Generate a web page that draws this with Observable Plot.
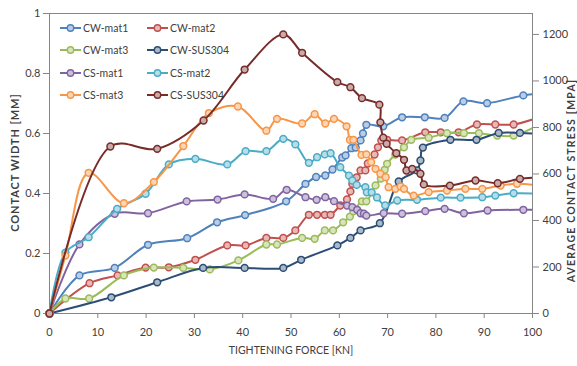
<!DOCTYPE html>
<html><head><meta charset="utf-8">
<script src="https://cdn.jsdelivr.net/npm/d3@7"></script>
<script src="https://cdn.jsdelivr.net/npm/@observablehq/plot@0.6"></script>
<style>
body{margin:0;background:#fff;}
#wrap{position:relative;width:577px;height:366px;overflow:hidden;}
#legend{position:absolute;left:60px;top:17px;display:grid;grid-template-columns:87px 87px;grid-auto-rows:22.3px;font:10.5px Lato, sans-serif;color:#404040;}
.item{display:flex;align-items:center;white-space:nowrap;}
.item svg{margin-right:2px;}
</style></head><body><div id="wrap"><div id="legend"></div></div>
<script>
// ---- axis ticks ----
const xTicks = [0,10,20,30,40,50,60,70,80,90,100];
const leftTicks = [0,0.2,0.4,0.6,0.8,1];
const rightTicks = [0,200,400,600,800,1000,1200];
const RIGHT_MAX = 1290; // MPa at top of the secondary axis

const seriesNames = ["CW-mat1","CW-mat2","CW-mat3","CW-SUS304","CS-mat1","CS-mat2","CS-mat3","CS-SUS304"];
const seriesColors = ["#4F81BD","#C0504D","#9BBB59","#2C4D75","#8064A2","#4BACC6","#F79646","#772C2A"];

// ---- contact width [mm] vs tightening force [kN] ----
const cwMat1 = [[0,0],[6.2,0.127],[13.5,0.152],[20.4,0.229],[28.5,0.251],[34.7,0.304],[40.5,0.328],[49,0.374],[53,0.432],[55.2,0.455],[57.1,0.46],[58.6,0.48],[60.6,0.52],[61.3,0.527],[62.5,0.551],[63.4,0.553],[64.4,0.577],[64.9,0.6],[65.6,0.629],[69.1,0.624],[73,0.654],[77.7,0.654],[81.8,0.652],[85.7,0.707],[90.6,0.701],[98.1,0.727],[101.5,0.733]];
const cwMat2 = [[0,0],[8.3,0.101],[14.1,0.127],[19.9,0.153],[24.7,0.154],[30.2,0.179],[36.8,0.227],[40.6,0.227],[44.9,0.252],[48.4,0.252],[50.9,0.277],[53.7,0.329],[55.4,0.329],[57,0.329],[58.2,0.329],[60.2,0.36],[61.6,0.38],[62.3,0.407],[62.7,0.432],[63.6,0.454],[64.4,0.477],[65.4,0.477],[65.9,0.5],[67.3,0.53],[68,0.554],[68.7,0.577],[69.9,0.579],[73,0.577],[77.8,0.604],[81,0.604],[84.7,0.604],[88.5,0.63],[92.3,0.63],[96.1,0.63],[101.5,0.655]];
const cwMat3 = [[0,0],[3.3,0.05],[8.2,0.05],[15.4,0.127],[21.6,0.153],[27.7,0.152],[33.2,0.147],[39.1,0.177],[44.9,0.23],[47.1,0.23],[52.3,0.252],[54.9,0.249],[57,0.277],[58.7,0.277],[60.8,0.304],[62.2,0.323],[62.9,0.341],[64.7,0.374],[65.6,0.374],[67.5,0.427],[68.6,0.45],[69.4,0.479],[69.9,0.499],[71.6,0.53],[73.4,0.554],[74.9,0.579],[78.5,0.586],[82.3,0.601],[85.8,0.601],[88.9,0.601],[92.7,0.593],[96.1,0.593],[101.5,0.63]];
const cwSus304 = [[0,0],[12.8,0.054],[22.3,0.104],[31.8,0.152],[40.4,0.152],[48.4,0.152],[52.1,0.179],[59.6,0.227],[62.3,0.252],[64.4,0.277],[68.4,0.301],[72.3,0.44],[76.1,0.477],[76.8,0.51],[77.3,0.553],[83,0.579],[88.4,0.579],[93,0.602],[97.4,0.602],[101.5,0.598]];

// ---- average contact stress [MPa] vs tightening force [kN] ----
const csMat1 = [[0,0],[6.2,297],[13.5,429],[20.4,431],[28.4,482],[34.8,490],[40.4,512],[46.3,493],[49.1,532],[53,500],[55.3,489],[57.1,500],[58.9,483],[61.6,464],[62.7,457],[63.7,446],[64.4,431],[65.1,429],[65.6,421],[69.2,431],[73,429],[77.8,440],[81.8,450],[85.8,431],[90.7,443],[98.1,446],[101.5,446]];
const csMat2 = [[0,0],[3.3,262],[8.1,328],[14,450],[19.9,515],[24.7,641],[30.2,665],[36.8,641],[40.6,698],[44.9,698],[48.4,751],[50.9,727],[53.7,648],[55.4,672],[57,684],[58.2,689],[60.2,629],[62,593],[62.7,572],[63.6,553],[65.4,543],[65.7,521],[66.7,521],[67.8,499],[69.5,465],[72,486],[76.1,489],[81,498],[85.1,498],[89.6,500],[92.3,507],[96.1,517],[101.5,515]];
const csMat3 = [[0,0],[3.3,249],[8.1,605],[15.4,474],[21.6,565],[27.7,720],[33,862],[39,890],[44.9,786],[47.1,837],[52.3,817],[54.9,857],[57.1,817],[58.9,837],[61.5,805],[62.2,747],[62.9,747],[64.6,682],[65.6,684],[66.6,651],[67.5,622],[68.5,601],[69.6,586],[70.2,543],[71.6,536],[72.7,546],[73.4,536],[75.4,507],[78.5,522],[82.3,529],[86.1,536],[89.6,536],[93.4,550],[96.8,558],[101.5,550]];
const csSus304 = [[0,0],[12.6,718],[22.3,708],[31.9,830],[40.4,1049],[48.4,1200],[52.3,1121],[59.6,995],[62.3,973],[64.7,926],[68.3,898],[68.5,822],[69.1,756],[69.8,730],[71.8,689],[73.4,661],[73.9,615],[75.1,622],[76.8,601],[77.5,555],[82.9,550],[88.2,572],[92.8,560],[97.4,579],[101.5,586]];

const seriesData = [cwMat1, cwMat2, cwMat3, cwSus304, csMat1, csMat2, csMat3, csSus304];
const onRight = [false,false,false,false,true,true,true,true];

const LEFT_TITLE = "CONTACT WIDTH [MM]";
const RIGHT_TITLE = "AVERAGE CONTACT STRESS [MPA]";
const X_TITLE = "TIGHTENING FORCE [KN]";

const tint = c => d3.interpolateRgb(c, "#ffffff")(0.6);

const marks = [
  Plot.frame({stroke: "#868686"}),
  Plot.axisX(xTicks, {tickSize: 5, tickPadding: 10, stroke: "#868686", label: null}),
  Plot.axisY(leftTicks, {anchor: "left", tickSize: 6, tickPadding: 3, stroke: "#868686", tickFormat: d3.format("~g"), label: null}),
  Plot.axisY(rightTicks.map(v => v / RIGHT_MAX), {anchor: "right", tickSize: 6, tickPadding: 4, stroke: "#868686", tickFormat: d => String(Math.round(d * RIGHT_MAX)), label: null})
];

seriesData.forEach((arr, i) => {
  const rows = arr.map(([x, v]) => ({x, y: onRight[i] ? v / RIGHT_MAX : v}));
  marks.push(Plot.line(rows, {x: "x", y: "y", stroke: seriesColors[i], strokeWidth: 2, curve: "catmull-rom", clip: true}));
  marks.push(Plot.dot(rows.filter(d => d.x <= 100), {x: "x", y: "y", r: 3.4, stroke: seriesColors[i], strokeWidth: 1.5, fill: tint(seriesColors[i])}));
});

marks.push(
  Plot.text([LEFT_TITLE], {frameAnchor: "left", textAnchor: "middle", dx: -34, dy: -1, rotate: -90, fontWeight: "bold", fontSize: 11, fill: "#404040"}),
  Plot.text([RIGHT_TITLE], {frameAnchor: "right", textAnchor: "middle", dx: 39, dy: 17, rotate: -90, fontWeight: "bold", fontSize: 10.5, fill: "#404040"}),
  Plot.text([X_TITLE], {frameAnchor: "bottom", dy: 40, fontSize: 10.5, fill: "#404040"})
);

const chart = Plot.plot({
  width: 577,
  height: 366,
  marginLeft: 49,
  marginRight: 45,
  marginTop: 13,
  marginBottom: 53,
  style: {fontFamily: "Lato, sans-serif", fontSize: "11px", color: "#404040", background: "#fff"},
  x: {domain: [0, 100], label: null},
  y: {domain: [0, 1], label: null},
  marks
});

d3.select(chart).selectAll("text").filter(function(){ return this.textContent === LEFT_TITLE; }).attr("letter-spacing", "0.9px");
d3.select(chart).selectAll("text").filter(function(){ return this.textContent === RIGHT_TITLE; }).attr("letter-spacing", "1.2px");

document.getElementById("wrap").prepend(chart);
chart.style.position = "absolute";
chart.style.left = "0";
chart.style.top = "0";

// ---- legend (inside plot area, two columns) ----
const legend = d3.select("#legend");
seriesNames.forEach((name, i) => {
  const item = legend.append("div").attr("class", "item");
  const sw = item.append("svg").attr("width", 21).attr("height", 10);
  sw.append("line").attr("x1", 0).attr("x2", 21).attr("y1", 5).attr("y2", 5).attr("stroke", seriesColors[i]).attr("stroke-width", 2);
  sw.append("circle").attr("cx", 10.5).attr("cy", 5).attr("r", 3.2).attr("stroke", seriesColors[i]).attr("stroke-width", 1.4).attr("fill", tint(seriesColors[i]));
  item.append("span").text(name);
});
</script></body></html>
